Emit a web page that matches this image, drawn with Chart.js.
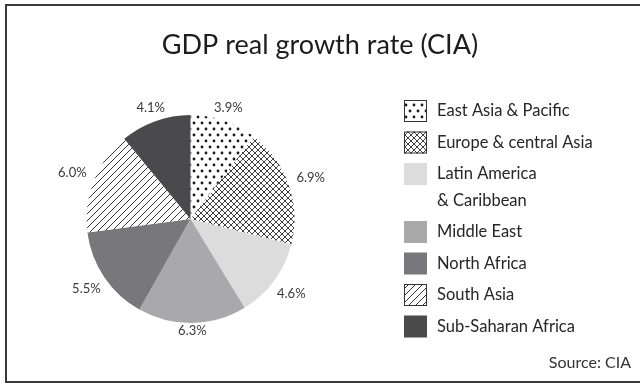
<!DOCTYPE html>
<html>
<head>
<meta charset="utf-8">
<title>GDP real growth rate (CIA)</title>
<script src="https://cdn.jsdelivr.net/npm/chart.js@4/dist/chart.umd.min.js"></script>
<style>
    html, body { margin: 0; padding: 0; background: #fff; }
    #wrap { position: relative; width: 640px; height: 384px; }
</style>
</head>
<body>
<div id="wrap"><canvas id="graficoPib" width="640" height="384"></canvas></div>
<script>
// Regiones y tasas de crecimiento del PIB real (%)
const regiones = [
    'East Asia & Pacific',
    'Europe & central Asia',
    ['Latin America', '& Caribbean'],
    'Middle East',
    'North Africa',
    'South Asia',
    'Sub-Saharan Africa'
];
const crecimiento = [3.9, 6.9, 4.6, 6.3, 5.5, 6.0, 4.1];
const etiquetas = ['3.9%', '6.9%', '4.6%', '6.3%', '5.5%', '6.0%', '4.1%'];

const FUENTE = "'Lato', 'Open Sans', sans-serif";

/**
 * Crea un patrón de relleno a partir de una función de dibujo
 */
function crearPatron(ancho, alto, dibujar) {
    const c = document.createElement('canvas');
    c.width = ancho;
    c.height = alto;
    const g = c.getContext('2d');
    g.fillStyle = '#fff';
    g.fillRect(0, 0, ancho, alto);
    dibujar(g, ancho, alto);
    return document.createElement('canvas').getContext('2d').createPattern(c, 'repeat');
}

// Puntos escalonados
const patronPuntos = crearPatron(8, 12, function(g) {
    g.fillStyle = '#1a1a1a';
    [[2, 3], [6, 9]].forEach(p => {
        g.beginPath();
        g.arc(p[0], p[1], 1.4, 0, Math.PI * 2);
        g.fill();
    });
});

// Cuadriculado diagonal
const patronCruzado = crearPatron(6, 6, function(g, w, h) {
    g.strokeStyle = '#2a2a2a';
    g.lineWidth = 0.9;
    g.beginPath();
    for (let k = -1; k <= 1; k++) {
        g.moveTo(k * w, 0); g.lineTo(k * w + w, h);
        g.moveTo(k * w, h); g.lineTo(k * w + w, 0);
    }
    g.stroke();
});

// Rayado diagonal
const patronRayas = crearPatron(7, 7, function(g, w, h) {
    g.strokeStyle = '#1e1e1e';
    g.lineWidth = 0.9;
    g.beginPath();
    for (let k = -1; k <= 1; k++) {
        g.moveTo(k * w, h); g.lineTo(k * w + w, 0);
    }
    g.stroke();
});

const rellenos = [patronPuntos, patronCruzado, '#dcdcdd', '#a9a9ab', '#78787c', patronRayas, '#4a4a4c'];
const conBorde = [true, true, false, false, false, true, false];

// Marco, título, fuente y leyenda
const decoracion = {
    id: 'decoracion',
    beforeDraw(chart) {
        const ctx = chart.ctx;
        ctx.save();
        ctx.fillStyle = '#fff';
        ctx.fillRect(0, 0, chart.width, chart.height);
        ctx.restore();
    },
    afterDraw(chart) {
        const ctx = chart.ctx;
        ctx.save();
        ctx.strokeStyle = '#3a3a3a';
        ctx.lineWidth = 2;
        ctx.beginPath();
        ctx.moveTo(660, 5);
        ctx.lineTo(6, 5);
        ctx.lineTo(6, 382);
        ctx.lineTo(660, 382);
        ctx.stroke();

        ctx.fillStyle = '#1c1c1c';
        ctx.textAlign = 'center';
        ctx.textBaseline = 'middle';
        ctx.font = '27px ' + FUENTE;
        ctx.fillText('GDP real growth rate (CIA)', 320, 45);

        ctx.fillStyle = '#333';
        ctx.textAlign = 'right';
        ctx.font = '16px ' + FUENTE;
        ctx.fillText('Source: CIA', 631, 363);

        // Leyenda
        ctx.textAlign = 'left';
        ctx.font = '16.5px ' + FUENTE;
        let y = 111;
        regiones.forEach((nombre, i) => {
            const lineas = Array.isArray(nombre) ? nombre : [nombre];
            ctx.fillStyle = rellenos[i];
            ctx.fillRect(404, y - 11, 23, 22);
            if (conBorde[i]) {
                ctx.strokeStyle = '#333';
                ctx.lineWidth = 1;
                ctx.strokeRect(404.5, y - 10.5, 22, 21);
            }
            ctx.fillStyle = '#262626';
            lineas.forEach((l, j) => ctx.fillText(l, 437, y + j * 26.5));
            y += 31.5 + (lineas.length - 1) * 26.5;
        });
        ctx.restore();
    }
};

// Etiquetas de porcentaje fuera de cada sector
const etiquetasSector = {
    id: 'etiquetasSector',
    afterDatasetsDraw(chart) {
        const ctx = chart.ctx;
        const meta = chart.getDatasetMeta(0);
        ctx.save();
        ctx.font = '13px ' + FUENTE;
        ctx.fillStyle = '#3a3a3a';
        ctx.textAlign = 'center';
        ctx.textBaseline = 'middle';
        meta.data.forEach((arc, i) => {
            const p = arc.getProps(['x', 'y', 'startAngle', 'endAngle', 'outerRadius'], true);
            const ang = (p.startAngle + p.endAngle) / 2;
            const texto = etiquetas[i];
            const w = ctx.measureText(texto).width;
            const cos = Math.cos(ang), sin = Math.sin(ang);
            const extra = Math.abs(cos) * (w / 2 + 4) + Math.abs(sin) * 2.6;
            const r = p.outerRadius + 5 + extra;
            ctx.fillText(texto, p.x + cos * r, p.y + sin * r);
        });
        ctx.restore();
    }
};

new Chart(document.getElementById('graficoPib'), {
    type: 'pie',
    data: {
        labels: regiones.map(r => Array.isArray(r) ? r.join(' ') : r),
        datasets: [{
            data: crecimiento,
            backgroundColor: rellenos,
            borderWidth: 0,
            hoverOffset: 0
        }]
    },
    options: {
        responsive: false,
        animation: false,
        events: [],
        layout: {
            padding: { left: 86, right: 345, top: 115, bottom: 61 }
        },
        plugins: {
            legend: { display: false },
            title: { display: false },
            tooltip: { enabled: false }
        }
    },
    plugins: [decoracion, etiquetasSector]
});
</script>
</body>
</html>
